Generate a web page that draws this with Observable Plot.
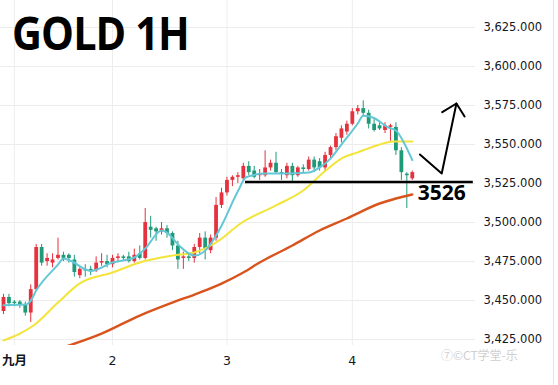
<!DOCTYPE html>
<html><head><meta charset="utf-8">
<script src="https://cdn.jsdelivr.net/npm/d3@7"></script>
<script src="https://cdn.jsdelivr.net/npm/@observablehq/plot@0.6"></script>
<style>
html,body{margin:0;padding:0;background:#fff;overflow:hidden}
#wrap{position:relative;width:558px;height:385px}
#title{position:absolute;left:12px;top:9px;font-family:"Open Sans";font-weight:700;font-size:46px;letter-spacing:-1px;color:#000;line-height:1;transform:scaleX(0.9);transform-origin:left top;white-space:nowrap}
#wm{position:absolute;left:441px;top:346px;font-family:"Noto Sans CJK SC";font-size:12px;color:#cfcfcf;white-space:nowrap}
#border{position:absolute;left:553px;top:0;width:1px;height:385px;background:#e6e6e6}
</style></head>
<body><div id="wrap"><div id="chart"></div><div id="title">GOLD 1H</div><div id="wm">⑦©CT学堂-乐</div><div id="border"></div></div>
<script>
// Hourly candles (index 0 = first visible hour)
const open  = [3443,3452,3449,3449,3447,3442,3457,3484,3475,3474,3477,3479,3479,3476,3466,3470,3470,3469,3474,3475,
               3473,3477,3478,3478,3475,3480,3477,3497,3496,3494,3496,3493,3485,3477,3478,3477,3484,3490,3482,3490,
               3511,3519,3527,3529,3528,3536,3533,3530,3530,3535,3538,3532,3530,3536,3530,3535,3534,3540,3539,3535,
               3543,3548,3554,3558,3563,3571,3573,3570,3563,3562,3559,3561,3561,3546,3531,3528];
const high  = [3454,3454,3450,3450,3449,3460,3486,3486,3480,3480,3490,3481,3480,3479,3471,3473,3472,3478,3480,3479,
               3479,3480,3479,3481,3483,3485,3509,3504,3497,3500,3498,3494,3488,3481,3480,3486,3493,3494,3492,3516,
               3522,3529,3530,3532,3538,3539,3536,3534,3546,3540,3545,3534,3538,3538,3536,3537,3542,3542,3541,3545,
               3549,3557,3562,3565,3573,3575,3578,3572,3566,3565,3564,3563,3564,3548,3532,3533];
const low   = [3441,3446,3446,3445,3440,3436,3456,3472,3472,3471,3476,3475,3474,3465,3464,3465,3466,3468,3472,3471,
               3471,3475,3475,3474,3474,3476,3476,3490,3488,3492,3490,3482,3470,3470,3475,3474,3480,3476,3480,3488,
               3509,3517,3523,3525,3527,3530,3528,3527,3529,3533,3531,3527,3528,3526,3529,3532,3533,3532,3533,3533,
               3541,3546,3551,3556,3562,3569,3568,3560,3558,3559,3557,3552,3543,3527,3509,3527];
const close = [3452,3448,3448,3447,3442,3457,3484,3474,3477,3476,3479,3477,3477,3468,3470,3469,3469,3474,3475,3473,
               3477,3478,3477,3475,3479,3477,3500,3495,3494,3496,3493,3485,3476,3478,3477,3484,3490,3483,3490,3511,
               3519,3527,3529,3530,3536,3532,3529,3531,3535,3538,3532,3531,3536,3530,3535,3534,3540,3535,3535,3543,
               3548,3555,3560,3563,3571,3573,3570,3563,3559,3560,3562,3562,3546,3532,3530,3532];

// Moving averages: [index, price]
const maFast = [[0,3447],[4,3447.4],[5,3450],[6,3456.4],[10,3473],[11,3477],[12,3476],[16,3469],[20,3474.4],[24,3477.6],
                [26,3483.3],[29,3494.9],[30,3493.6],[32,3486],[35,3478.8],[37,3482],[39,3491.7],[40,3498],[43,3520],[44.5,3529],
                [48,3531.4],[52,3531.4],[56,3532],[58,3535.3],[60,3541],[62,3550],[65,3563.5],[66,3568.5],[68,3567],[70.5,3561],
                [72,3559],[73.5,3551],[75,3540]];
const maMid  = [[0,3424.4],[3,3428.8],[5.5,3434],[10,3448.7],[14,3461],[20,3468],[25,3474.4],[31,3478.8],[35,3480.8],[39,3487.2],
                [43.5,3499.4],[50,3511],[55,3520.5],[59,3533],[62,3541],[65,3545],[68.5,3549.4],[71.5,3552],[75,3552]];
const maSlow = [[11,3420],[18,3428.8],[25,3440.4],[31,3448.7],[36,3455.1],[40,3460.9],[44,3468],[47,3474.4],[53,3485.3],[58,3494.9],
                [63,3502.6],[69,3512.2],[72,3515.4],[75,3518]];

const yTicks = [3425,3450,3475,3500,3525,3550,3575,3600,3625];
const monthTicks = [2], monthLabels = ["九月"];
const dayTicks = [20,41,64], dayLabels = ["2","3","4"];

// Annotations
const level = 3526, levelFrom = 44.4, levelTo = 86.2;
const levelLabel = "3526", levelLabelPos = [80.4, 3518.6];
const arrowPath = [[76.4,3543.6],[80.4,3531.4],[83.1,3576.3]];
const arrowHead = [[80.5,3570.7],[83.1,3576.3],[84.6,3568]];

const RED = "#e5323e", GREEN = "#1f9a78";
const candles = open.map((o,i) => ({i, o, h: high[i], l: low[i], c: close[i], col: close[i] >= o ? RED : GREEN}));

const chart = Plot.plot({
  width: 558, height: 385,
  marginLeft: 0, marginRight: 83, marginTop: 0, marginBottom: 40,
  x: {domain: [-0.55, 86.6], label: null},
  y: {domain: [3421.2, 3642.3], label: null},
  color: {type: "identity"},
  style: {background: "transparent", fontFamily: "DejaVu Sans", overflow: "visible"},
  marks: [
    Plot.gridY(yTicks, {stroke: "#ececec", strokeOpacity: 1}),
    Plot.gridX([...monthTicks, ...dayTicks], {stroke: "#ededed", strokeOpacity: 1}),
    Plot.axisY(yTicks, {anchor: "right", tickSize: 0, tickPadding: 8, tickFormat: d3.format(",.3f"), fontSize: 11.5, fill: "#131722"}),
    Plot.axisX(monthTicks, {tickSize: 0, tickPadding: 11, tickFormat: d => monthLabels[monthTicks.indexOf(d)], fontWeight: "bold", fontFamily: "Noto Sans CJK SC", fontSize: 12.5, fill: "#131722"}),
    Plot.axisX(dayTicks, {tickSize: 0, tickPadding: 11, tickFormat: d => dayLabels[dayTicks.indexOf(d)], fontFamily: "DejaVu Sans", fontSize: 12.5, fill: "#131722"}),
    Plot.ruleX(candles, {x: "i", y1: "l", y2: "h", stroke: "col", strokeWidth: 1}),
    Plot.ruleX(candles, {x: "i", y1: "o", y2: "c", stroke: "col", strokeWidth: 3.8}),
    Plot.line(maSlow, {x: d => d[0], y: d => d[1], stroke: "#d9541c", strokeWidth: 2.4, curve: "monotone-x", clip: true}),
    Plot.line(maMid, {x: d => d[0], y: d => d[1], stroke: "#f3e43a", strokeWidth: 2, curve: "monotone-x", clip: true}),
    Plot.line(maFast, {x: d => d[0], y: d => d[1], stroke: "#63c7d6", strokeWidth: 2, curve: "monotone-x", clip: true}),
    Plot.ruleY([level], {x1: levelFrom, x2: levelTo, stroke: "#000", strokeWidth: 2.5}),
    Plot.line(arrowPath, {x: d => d[0], y: d => d[1], stroke: "#000", strokeWidth: 2}),
    Plot.line(arrowHead, {x: d => d[0], y: d => d[1], stroke: "#000", strokeWidth: 2}),
    Plot.text([levelLabel], {x: levelLabelPos[0], y: levelLabelPos[1], text: d => d, fontSize: 21, fontWeight: "bold", fontFamily: "Open Sans", fill: "#000"})
  ]
});
document.getElementById("chart").append(chart);
</script>
</body></html>
